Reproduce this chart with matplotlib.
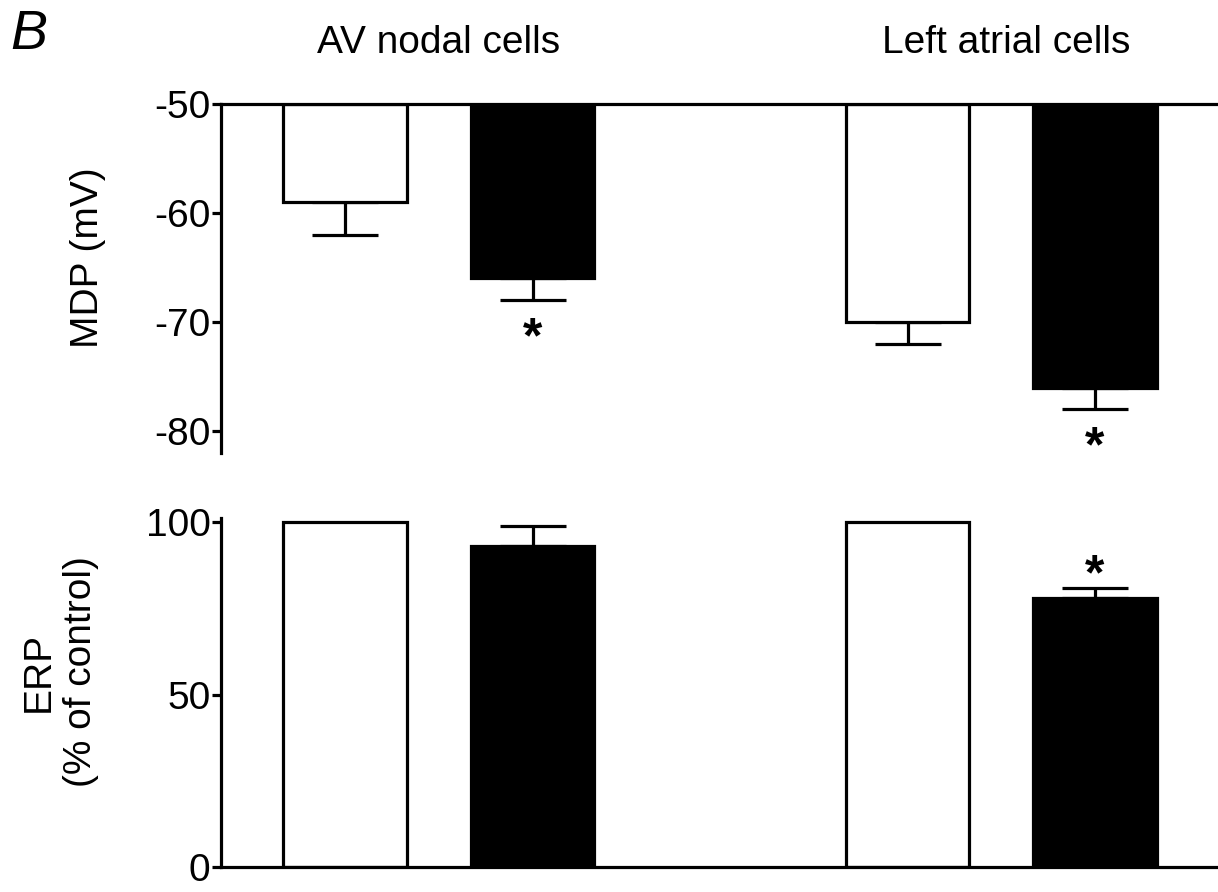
import matplotlib
matplotlib.use("Agg")
import matplotlib.pyplot as plt

plt.rcParams['font.family'] = ['Liberation Sans', 'DejaVu Sans']

# ---- data ----
groups = ["AV nodal cells", "Left atrial cells"]
positions = [0.0, 1.5, 4.5, 6.0]
fill_colors = ["white", "black", "white", "black"]

mdp_values = [-59, -66, -70, -76]
mdp_errors = [3, 2, 2, 2]
mdp_signif = [False, True, False, True]
mdp_ticks = [-50, -60, -70, -80]

erp_values = [100, 93, 100, 78]
erp_errors = [0, 6, 0, 3]
erp_signif = [False, False, False, True]
erp_ticks = [0, 50, 100]

FS = 28
LW = 2.3

fig = plt.figure(figsize=(12.18, 8.92), dpi=100)
W, H = 1218, 892

def ax_rect(x0, y0, x1, y1):
    return [x0 / W, 1 - y1 / H, (x1 - x0) / W, (y1 - y0) / H]

ax1 = fig.add_axes(ax_rect(221, 104, 1218, 453))
ax2 = fig.add_axes(ax_rect(221, 518, 1218, 867))

xlim = (-0.992, -0.992 + 997 / 125.0)

# ---- top panel: MDP (bars hang down from -50) ----
base = -50
for x, v, e, c, s in zip(positions, mdp_values, mdp_errors, fill_colors, mdp_signif):
    ax1.bar(x, v - base, bottom=base, width=0.985, color=c, edgecolor="black",
            linewidth=LW, zorder=2)
    ax1.errorbar(x, v, yerr=[[e], [0]], fmt="none", ecolor="black",
                 elinewidth=LW, capsize=23.5, capthick=LW, zorder=1)
    if s:
        ax1.annotate("*", xy=(x, v - e), xytext=(0, -28), textcoords="offset points",
                     ha="center", va="center", fontsize=36, fontweight="bold")

ax1.set_xlim(*xlim)
ax1.set_ylim(-82.0, -50)
ax1.set_yticks(mdp_ticks)
ax1.set_yticklabels([str(t) for t in mdp_ticks])
ax1.set_xticks([])
for sp in ["bottom", "right"]:
    ax1.spines[sp].set_visible(False)
for sp in ["top", "left"]:
    ax1.spines[sp].set_linewidth(LW)

# ---- bottom panel: ERP ----
for x, v, e, c, s in zip(positions, erp_values, erp_errors, fill_colors, erp_signif):
    ax2.bar(x, v, width=0.985, color=c, edgecolor="black", linewidth=LW, zorder=2)
    if e > 0:
        ax2.errorbar(x, v, yerr=[[0], [e]], fmt="none", ecolor="black",
                     elinewidth=LW, capsize=23.5, capthick=LW, zorder=1)
    if s:
        ax2.annotate("*", xy=(x, v + e), xytext=(0, 8), textcoords="offset points",
                     ha="center", va="center", fontsize=36, fontweight="bold")

ax2.set_xlim(*xlim)
ax2.set_ylim(0, 101.2)
ax2.set_yticks(erp_ticks)
ax2.set_yticklabels([str(t) for t in erp_ticks])
ax2.set_xticks([])
for sp in ["top", "right"]:
    ax2.spines[sp].set_visible(False)
for sp in ["bottom", "left"]:
    ax2.spines[sp].set_linewidth(LW)

for ax in (ax1, ax2):
    ax.tick_params(axis="y", direction="out", length=6.5, width=LW,
                   labelsize=FS, pad=1)
    ax.patch.set_alpha(0)

# ---- texts ----
fig.text(10 / W, 1 - 35 / H, "B", fontsize=40, fontstyle="italic",
         ha="left", va="center")
fig.text(439 / W, 1 - 43 / H, groups[0], fontsize=FS, ha="center", va="center")
fig.text(1006 / W, 1 - 43 / H, groups[1], fontsize=FS, ha="center", va="center")
fig.text(88 / W, 1 - 258 / H, "MDP (mV)", fontsize=FS, rotation=90,
         ha="center", va="center")
fig.text(60 / W, 1 - 672 / H, "ERP\n(% of control)", fontsize=FS, rotation=90,
         ha="center", va="center", multialignment="center", linespacing=1.2)

fig.savefig("out.png", dpi=100)
